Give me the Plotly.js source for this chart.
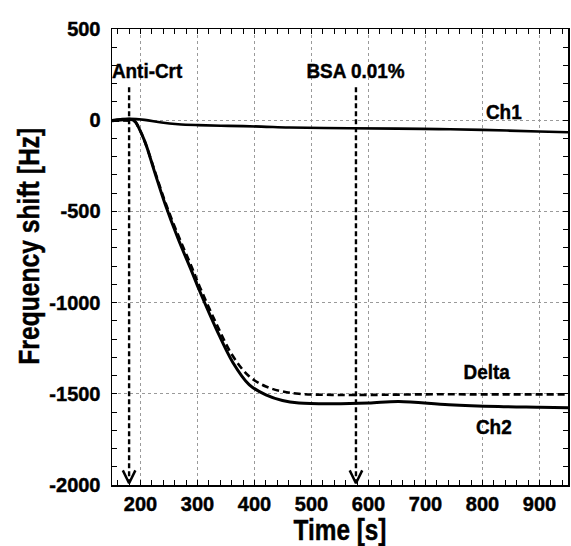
<!DOCTYPE html>
<html>
<head>
<meta charset="utf-8">
<script src="https://cdn.plot.ly/plotly-3.0.1.min.js"></script>
<style>
  html, body { margin: 0; padding: 0; background: #ffffff; }
  #chart { width: 571px; height: 546px; }
  #chart svg text { stroke: #000; stroke-width: 0.45px; }
</style>
</head>
<body>
<div id="chart"></div>
<script>
// ---- data ----
const ch1Time  = [150, 165, 181, 207, 237, 266, 301, 354, 412, 461, 566, 650, 723, 799, 899, 950];
const ch1Shift = [0, 5, 8, 2, -13, -22, -27, -31, -35, -40, -44, -46, -49, -53, -62, -66];

const ch2Time  = [150, 170, 181, 190, 196, 208, 225, 243, 266, 290, 304, 333, 362, 391, 420, 449, 478, 536, 600, 653, 741, 828, 900, 950];
const ch2Shift = [-3, 2, 5, -5, -35, -120, -286, -458, -650, -830, -938, -1145, -1328, -1451, -1506, -1537, -1551, -1555, -1551, -1542, -1560, -1570, -1574, -1577];

const deltaTime  = [150, 181, 190, 196, 208, 225, 243, 266, 290, 304, 333, 362, 391, 420, 449, 478, 536, 600, 700, 800, 950];
const deltaShift = [-3, -3, -8, -36, -122, -278, -446, -630, -806, -914, -1115, -1293, -1405, -1460, -1487, -1500, -1506, -1506, -1503, -1503, -1503];

// axis ticks
const xTickVals = [200, 300, 400, 500, 600, 700, 800, 900];
const xTickText = ["200", "300", "400", "500", "600", "700", "800", "900"];
const yTickVals = [-2000, -1500, -1000, -500, 0, 500];
const yTickText = ["-2000", "-1500", "-1000", "-500", "0", "500"];

// injection markers
const injectTime  = [180, 578];
const injectLabel = ["Anti-Crt", "BSA 0.01%"];
const injectLabelTime = [212, 578];
const arrowTop = 180, arrowBottom = -2000;

// curve labels
const curveLabel = ["Ch1", "Delta", "Ch2"];
const curveLabelTime = [837, 808, 820];
const curveLabelShift = [50, -1380, -1680];

const FONT = '"Liberation Sans", Arial, sans-serif';

const traces = [];
traces.push({x: ch1Time, y: ch1Shift, mode: 'lines', line: {color: '#000', width: 2.6, shape: 'spline'}, name: 'Ch1', hoverinfo: 'skip'});
traces.push({x: ch2Time, y: ch2Shift, mode: 'lines', line: {color: '#000', width: 3, shape: 'spline'}, name: 'Ch2', hoverinfo: 'skip'});
traces.push({x: deltaTime, y: deltaShift, mode: 'lines', line: {color: '#000', width: 2.6, dash: '7px,4px', shape: 'spline'}, name: 'Delta', hoverinfo: 'skip'});

// arrows: dashed shafts + open chevron heads
const headDx = 11, headDy = 80;
injectTime.forEach(t => {
  traces.push({x: [t, t], y: [arrowTop, arrowBottom + 15], mode: 'lines', line: {color: '#000', width: 2.4, dash: '5px,3px'}, hoverinfo: 'skip'});
  traces.push({x: [t - headDx, t, t + headDx], y: [arrowBottom + headDy, arrowBottom + 10, arrowBottom + headDy], mode: 'lines', line: {color: '#000', width: 2.5}, hoverinfo: 'skip'});
});

const annotations = [];
injectLabel.forEach((s, i) => {
  annotations.push({x: injectLabelTime[i], y: 270, xref: 'x', yref: 'y', text: s, showarrow: false,
    xanchor: 'center', yanchor: 'middle',
    font: {family: FONT, size: 21, color: '#000', weight: 'bold'}});
});
curveLabel.forEach((s, i) => {
  annotations.push({x: curveLabelTime[i], y: curveLabelShift[i], xref: 'x', yref: 'y', text: s, showarrow: false,
    xanchor: 'center', yanchor: 'middle',
    font: {family: FONT, size: 21, color: '#000', weight: 'bold'}});
});
annotations.push({x: -0.184, y: 0.523, xref: 'paper', yref: 'paper', text: 'Frequency shift [Hz]', textangle: -90, showarrow: false,
  xanchor: 'center', yanchor: 'middle', name: 'ytitle',
  font: {family: FONT, size: 29, color: '#000', weight: 'bold'}});

const axisCommon = {
  showline: true, linecolor: '#000', linewidth: 1.5, mirror: 'ticks',
  ticks: 'inside', ticklen: 5, tickwidth: 1.2, tickcolor: '#000',
  showgrid: true, gridcolor: '#9a9a9a', griddash: 'dot', gridwidth: 1,
  zeroline: false, tickmode: 'array',
  tickfont: {family: FONT, size: 20, color: '#000', weight: 'bold'}
};

const layout = {
  width: 571, height: 546,
  margin: {l: 112, r: 3, t: 29, b: 61},
  paper_bgcolor: '#ffffff', plot_bgcolor: '#ffffff',
  showlegend: false,
  xaxis: Object.assign({}, axisCommon, {
    range: [150, 950], tickvals: xTickVals, ticktext: xTickText,
    minor: {dtick: 20, tick0: 0, ticks: 'inside', ticklen: 5, tickcolor: '#000', tickwidth: 1, showgrid: false},
    title: {text: 'Time [s]', font: {family: FONT, size: 29, color: '#000', weight: 'bold'}, standoff: 4}
  }),
  yaxis: Object.assign({}, axisCommon, {
    range: [-2000, 500], tickvals: yTickVals, ticktext: yTickText, ticklabelstandoff: 6,
    minor: {dtick: 100, tick0: 0, ticks: 'inside', ticklen: 5, tickcolor: '#000', tickwidth: 1, showgrid: false}
  }),
  annotations: annotations
};

function condense(el, factor) {
  const len = el.getComputedTextLength();
  if (len > 0) {
    el.setAttribute('textLength', (len * factor).toFixed(2));
    el.setAttribute('lengthAdjust', 'spacingAndGlyphs');
  }
}

Plotly.newPlot('chart', traces, layout, {staticPlot: true, displayModeBar: false}).then(gd => {
  // the reference uses a narrow bold face for titles and labels
  gd.querySelectorAll('.annotation-text').forEach(t => {
    const isTitle = t.textContent.indexOf('Frequency') === 0;
    condense(t, isTitle ? 0.85 : 0.9);
  });
  gd.querySelectorAll('.xtitle').forEach(t => condense(t, 0.84));
});
</script>
</body>
</html>
